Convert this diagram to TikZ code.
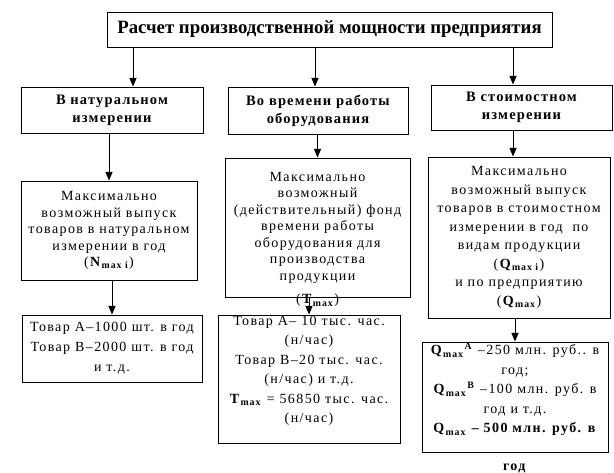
\documentclass[tikz,border=0pt]{standalone}
\usepackage{fontspec}
\setmainfont{Liberation Serif}
\newfontfamily\boxfont{Liberation Serif}[LetterSpace=10]
\newfontfamily\hdrfont{Liberation Serif}[LetterSpace=8]
\usepackage{tikz}
\usetikzlibrary{arrows}
\tikzset{
  box/.style={draw, line width=1pt, inner sep=0pt, align=center,
    font=\boxfont\fontsize{14}{16.5}\selectfont},
  hdr/.style={box, font=\hdrfont\fontsize{14.5}{18}\bfseries\selectfont},
  txt/.style={inner sep=0pt, align=center, font=\boxfont\fontsize{14}{19.5}\selectfont},
  arr/.style={line width=1pt, ->, >=triangle 45},
}

\begin{document}
\begin{tikzpicture}[x=1pt,y=-1pt]
\useasboundingbox (0,0) rectangle (614,472);
% top
\node[box, minimum width=445pt, minimum height=35pt,
  font=\fontsize{18.8}{20}\bfseries\selectfont] (title) at (329.5,29.5)
  {Расчет производственной мощности предприятия};
% headers
\node[hdr, minimum width=182pt, minimum height=46pt] (a1) at (112,110) {В натуральном\\измерении};
\node[hdr, minimum width=180pt, minimum height=47pt] (a2) at (318,110.5) {Во времени работы\\оборудования};
\node[hdr, minimum width=181pt, minimum height=45pt] (a3) at (521.5,107.5) {В стоимостном\\измерении};
% max values
\node[box, minimum width=176pt, minimum height=99pt] (b1) at (109,230.5)
  {Максимально\\возможный выпуск\\товаров в натуральном\\измерении в год\\(\textbf{N}\textsubscript{\textbf{max i}})};
\node[box, minimum width=185pt, minimum height=139pt] (b2) at (317.5,227.5)
  {Максимально\\возможный\\(действительный) фонд\\времени работы\\оборудования для\\производства\\продукции};
\node[box, minimum width=182pt, minimum height=161pt,
  font=\boxfont\fontsize{14}{18.5}\selectfont] (b3) at (519,237.5)
  {Максимально\\возможный выпуск\\товаров в стоимостном\\измерении в год \ по\\видам продукции\\(\textbf{Q}\textsubscript{\textbf{max i}})\\и по предприятию\\(\textbf{Q}\textsubscript{\textbf{max}})};
% examples
\node[box, minimum width=180pt, minimum height=67pt,
  font=\boxfont\fontsize{14}{20}\selectfont] (c1) at (112,348.5)
  {Товар А–1000 шт. в год\\Товар В–2000 шт. в год\\и т.д.};
\node[box, minimum width=182pt, minimum height=128pt] (c2) at (309,379) {};
\node[box, minimum width=186pt, minimum height=110pt] (c3) at (515,397) {};

% arrows
\coordinate (tA) at (133,0);
\coordinate (tB) at (315,0);
\coordinate (tC) at (513,0);
\draw[arr] (title.south -| tA) -- (a1.north -| tA);
\draw[arr] (title.south -| tB) -- (a2.north -| tB);
\draw[arr] (title.south -| tC) -- (a3.north -| tC);
\draw[arr] (a1.south -| b1.north) -- (b1.north);
\draw[arr] (a2.south -| b2.north) -- (b2.north);
\draw[arr] (a3.south -| tC) -- (b3.north -| tC);
\draw[arr] (b1.south -| c1.north) -- (c1.north);
\draw[arr] (b2.south -| c2.north) -- (c2.north);
\draw[arr] (b3.south -| c3.north) -- (c3.north);

\node[txt] (b2t) at ([yshift=-3pt]b2.south) {(\textbf{T}\textsubscript{\textbf{max}})};
\node[txt] (c2t) at ([yshift=8pt]c2.center)
  {Товар А– 10 тыс. час.\\(н/час)\\Товар В–20 тыс. час.\\(н/час) и т.д.\\\textbf{T}\textsubscript{\textbf{max}} = 56850 тыс. час.\\(н/час)};
\node[txt] (c3t) at ([yshift=-11pt]c3.center)
  {\textbf{Q}\textsubscript{\textbf{max}}\textsuperscript{\textbf{А}} –250 млн. руб.. в\\год;\\\textbf{Q}\textsubscript{\textbf{max}}\textsuperscript{\textbf{В}} –100 млн. руб. в\\год и т.д.\\\textbf{Q}\textsubscript{\textbf{max}} \textbf{– 500 млн. руб. в}\\[18pt]\textbf{год}};
\end{tikzpicture}
\end{document}
